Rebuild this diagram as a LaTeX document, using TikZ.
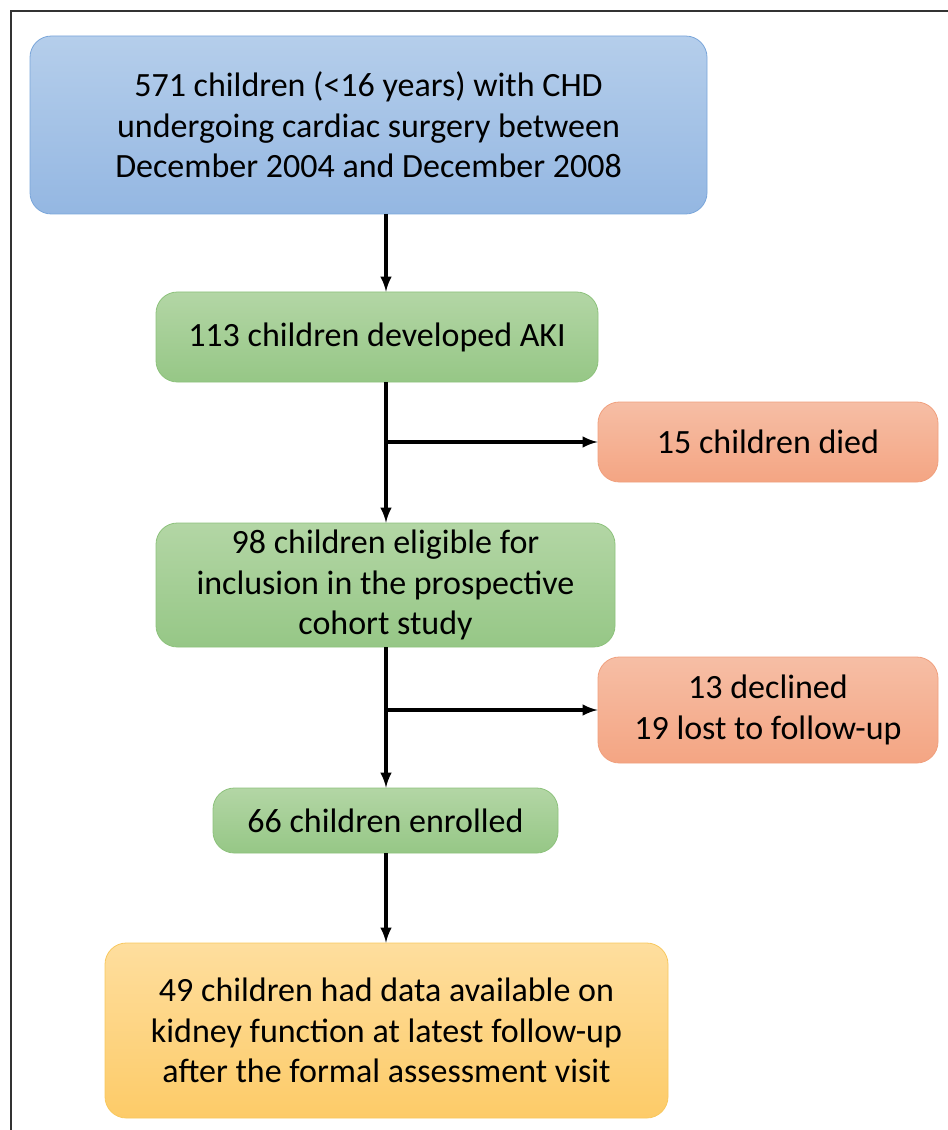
\documentclass[tikz,border=0pt]{standalone}
\usepackage{fontspec}
\setmainfont{Carlito}
\usetikzlibrary{calc}
\usetikzlibrary{arrows}

\definecolor{blueA}{HTML}{B5CEEB}
\definecolor{blueB}{HTML}{94B7E2}
\definecolor{blueE}{HTML}{7AA6DA}
\definecolor{greenA}{HTML}{B3D6A5}
\definecolor{greenB}{HTML}{96C786}
\definecolor{greenE}{HTML}{8DC27C}
\definecolor{redA}{HTML}{F6BEA5}
\definecolor{redB}{HTML}{F4A583}
\definecolor{redE}{HTML}{F0A07E}
\definecolor{yellA}{HTML}{FEDE9E}
\definecolor{yellB}{HTML}{FDCB68}
\definecolor{yellE}{HTML}{F8C85E}

\tikzset{
  flowbox/.style={rounded corners=16pt, line width=0.6pt, align=center,
    font=\fontsize{25.5}{30.5}\selectfont, inner sep=0pt},
  bluebox/.style={flowbox, draw=blueE, top color=blueA, bottom color=blueB},
  greenbox/.style={flowbox, draw=greenE, top color=greenA, bottom color=greenB},
  redbox/.style={flowbox, draw=redE, top color=redA, bottom color=redB},
  yellbox/.style={flowbox, draw=yellE, top color=yellA, bottom color=yellB},
  flowarr/.style={-latex, line width=2.8pt, black}
}

\begin{document}
\begin{tikzpicture}[x=0.75pt,y=-0.75pt]
\useasboundingbox (0,0) rectangle (948,1130);
% frame
\draw[line width=2.2pt, black!80] (11,1150) -- (11,11) -- (960,11);

% boxes
\node[bluebox, minimum width=677*0.75pt, minimum height=178*0.75pt] (total) at (368.5,125)
  {571 children (<16 years) with CHD\\undergoing cardiac surgery between\\December 2004 and December 2008};
\node[greenbox, minimum width=442*0.75pt, minimum height=90*0.75pt] (aki) at (377,337)
  {113 children developed AKI};
\node[redbox, minimum width=340*0.75pt, minimum height=80*0.75pt] (died) at (768,442)
  {15 children died};
\node[greenbox, minimum width=459*0.75pt, minimum height=124*0.75pt] (elig) at (385.5,585)
  {98 children eligible for\\inclusion in the prospective\\cohort study};
\node[redbox, minimum width=340*0.75pt, minimum height=106*0.75pt] (lost) at (768,710)
  {13 declined\\19 lost to follow-up};
\node[greenbox, minimum width=345*0.75pt, minimum height=65*0.75pt] (enrol) at (385.5,820.5)
  {66 children enrolled};
\node[yellbox, minimum width=563*0.75pt, minimum height=175*0.75pt] (final) at (386.5,1030.5)
  {49 children had data available on\\kidney function at latest follow-up\\after the formal assessment visit};

% connectors
\coordinate (t1) at (386,214);
\coordinate (t2) at (386,382);
\coordinate (t3) at (386,647);
\coordinate (t4) at (386,853);
\draw[flowarr] (t1) -- (t1 |- aki.north);
\draw[flowarr] (t2) -- (t2 |- elig.north);
\draw[flowarr] (t2 |- died.west) -- (died.west);
\draw[flowarr] (t3) -- (t3 |- enrol.north);
\draw[flowarr] (t3 |- lost.west) -- (lost.west);
\draw[flowarr] (t4) -- (t4 |- final.north);
\end{tikzpicture}
\end{document}
